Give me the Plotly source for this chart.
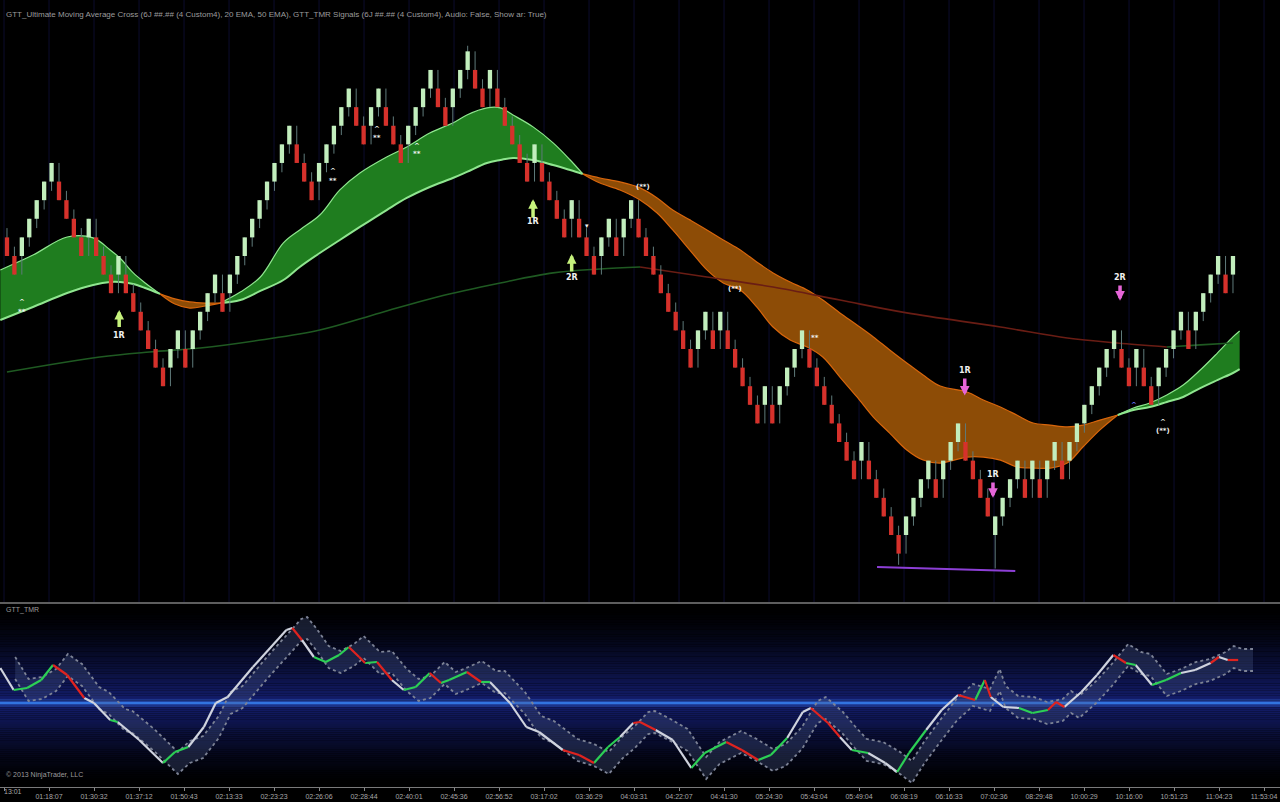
import numpy as np
import plotly.graph_objects as go

# ---------------- DATA ----------------
# Renko bricks: top of each body (in brick units) and colour (U = up / D = down)
body_top = [17, 16, 17, 18, 19, 20, 21, 20, 19, 18,
            17, 18, 17, 16, 15, 16, 15, 14, 13, 12,
            11, 10, 11, 12, 11, 12, 13, 14, 15, 14,
            15, 16, 17, 18, 19, 20, 21, 22, 23, 22,
            21, 20, 21, 22, 23, 24, 25, 24, 23, 24,
            25, 24, 23, 22, 23, 24, 25, 26, 25, 24,
            25, 26, 27, 26, 25, 26, 25, 24, 23, 22,
            21, 22, 21, 20, 19, 18, 19, 18, 17, 16,
            17, 18, 17, 18, 19, 18, 17, 16, 15, 14,
            13, 12, 11, 12, 13, 12, 13, 12, 11, 10,
            9, 8, 9, 8, 9, 10, 11, 12, 11, 10,
            9, 8, 7, 6, 5, 6, 5, 4, 3, 2,
            1, 2, 3, 4, 5, 4, 5, 6, 7, 6,
            5, 4, 3, 2, 3, 4, 5, 4, 5, 4,
            5, 6, 5, 6, 7, 8, 9, 10, 11, 12,
            11, 10, 11, 10, 9, 10, 11, 12, 13, 12,
            13, 14, 15, 16, 15, 16]
bar_dir = ("DDUUUUUDDD" "DUDDDUDDDD" "DDUUDUUUUD" "UUUUUUUUUD"
           "DDUUUUUDDU" "UDDDUUUUDD" "UUUDDUDDDD" "DUDDDDUDDD"
           "UUDUUDDDDD" "DDDUUDUDDD" "DDUDUUUUDD" "DDDDDUDDDD"
           "DUUUUDUUUD" "DDDUUUUDUD" "UUDUUUUUUU" "DDUDDUUUUD" "UUUUDU")
extra_low = {120: -0.6, 133: -0.8}
extra_high = {62: 27.3}

# Moving-average ribbon (fast / slow EMA) sampled along the bars
ma_x = [-0.9, 3.5, 8.1, 11.6, 13.9, 15.2, 17.0, 18.6, 20.6,
        22.6, 24.6, 26.7, 28.7,
        31.4, 34.1, 37.2, 39.4, 42.1, 44.8, 47.5, 51.1, 53.8, 56.9, 60.0, 61.9,
        64.6, 66.4, 68.1, 70.8, 73.5, 75.8, 77.5,
        79.8, 82.5, 85.2, 87.5, 89.6, 91.9, 94.2, 96.4, 98.7, 100.9, 103.1, 105.4,
        107.7, 109.8, 112.1, 114.4, 116.6, 118.8, 121.1, 123.3, 125.6, 129.2, 131.4,
        133.7, 135.9, 138.1, 140.4, 142.7, 144.8, 147.1, 149.5,
        151.6, 153.8, 156.1, 158.3, 160.6, 162.9, 165.0, 165.9]
ma_fast = [15.25, 16.05, 17.02, 16.97, 16.32, 15.89, 15.09, 14.55, 13.96,
           13.42, 13.20, 13.31, 13.47,
           14.06, 14.87, 16.70, 17.40, 18.20, 19.55, 20.46, 21.32, 21.86, 22.61, 23.15, 23.58,
           23.96, 23.96, 23.58, 22.94, 22.08, 21.16, 20.41,
           19.92, 19.55, 19.01, 18.31, 17.40, 16.32, 15.25, 14.55, 14.17, 13.26, 12.18, 11.48,
           11.11, 10.57, 9.49, 8.42, 7.34, 6.48, 5.57, 5.03, 4.87, 5.19, 5.19,
           5.03, 4.66, 4.60, 4.60, 4.87, 5.73, 6.65, 7.45,
           7.83, 8.10, 8.53, 9.06, 9.87, 10.78, 11.65, 11.97]
ma_slow = [12.56, 13.26, 14.01, 14.44, 14.60, 14.60, 14.49, 14.28, 13.96,
           13.69, 13.53, 13.47, 13.47,
           13.63, 14.12, 14.71, 15.41, 16.16, 16.86, 17.56, 18.47, 19.12, 19.71, 20.19, 20.52,
           21.00, 21.16, 21.27, 21.16, 20.89, 20.62, 20.41,
           20.19, 19.98, 19.66, 19.12, 18.47, 17.94, 17.40, 16.86, 16.32, 15.68, 15.09, 14.60,
           14.17, 13.63, 12.94, 12.29, 11.65, 10.95, 10.25, 9.60, 9.01, 8.69, 8.26,
           7.88, 7.45, 7.02, 6.91, 6.81, 6.91, 7.18, 7.45,
           7.72, 7.88, 8.15, 8.42, 8.90, 9.33, 9.71, 9.92]

# Long moving average
long_x = [0.0, 12.5, 19.2, 26.0, 34.1, 42.1, 50.2, 57.9, 66.4, 73.5, 79.8, 85.2,
          94.2, 103.1, 112.1, 121.1, 133.7, 142.7, 149.4, 156.1, 160.6, 165.0]
long_y = [9.76, 10.57, 10.84, 11.05, 11.48, 12.02, 12.94, 13.80, 14.55, 15.09, 15.30, 15.41,
          14.87, 14.33, 13.63, 12.94, 12.18, 11.59, 11.32, 11.11, 11.22, 11.32]

# Support line under the double bottom
support_x = [117.1, 135.7]
support_y = [-0.72, -0.94]

# Trade signals: bar, arrow tail, arrow head, label, label level, kind
sig_x = [15.1, 70.8, 76.0, 128.9, 132.7, 149.8]
sig_tail = [12.10, 17.98, 15.08, 9.50, 3.90, 14.50]
sig_head = [13.10, 19.05, 16.10, 8.50, 3.00, 13.60]
sig_label = ["1R", "1R", "2R", "1R", "1R", "2R"]
sig_label_y = [11.75, 17.83, 14.82, 9.87, 4.23, 14.87]
sig_kind = ["long", "long", "long", "short", "short", "short"]

# Small cross-over markers
mark_x = [2.0, 2.0, 43.9, 43.9, 49.8, 49.8, 55.2, 55.2, 85.6, 98.0, 108.7, 155.6, 155.6, 151.7, 78.1]
mark_y = [13.53, 12.99, 20.57, 20.03, 22.83, 22.34, 21.91, 21.48, 19.71, 14.23, 11.59, 7.08, 6.59, 7.99, 17.61]
mark_text = ["^", "**", "^", "**", "^", "**", "^", "**", "(**)", "(**)", "**", "^", "(**)", "^", "▾"]

# GTT_TMR oscillator
osc_x = [-0.9, 0.9, 2.7, 4.6, 6.2, 8.1, 10.4, 11.7, 13.9, 14.9, 17.8, 21.0, 22.6, 24.4, 26.5,
         28.1, 29.7, 33.1, 37.6, 38.4, 39.7, 41.3, 42.9, 44.7, 46.0, 47.4, 48.2, 49.8, 51.8,
         53.4, 55.0, 56.9, 58.4, 59.5, 61.9, 63.8, 65.0, 67.7, 69.9, 71.6, 74.8, 77.0, 79.0,
         80.9, 82.5, 84.3, 85.2, 87.3, 89.6, 92.1, 93.9, 96.8, 98.9, 101.1, 102.8, 105.0,
         107.1, 108.2, 110.5, 112.1, 113.7, 115.9, 118.2, 119.8, 121.4, 123.7, 125.8, 128.0,
         130.3, 131.6, 132.4, 134.1, 136.2, 138.0, 140.1, 141.2, 142.3, 144.6, 146.7, 148.9,
         150.6, 151.9, 154.1, 156.0, 158.0, 159.9, 162.0, 163.1, 164.3, 165.7]
osc_v = [0.35, 0.13, 0.15, 0.23, 0.38, 0.28, 0.05, 0.00, -0.17, -0.19, -0.37, -0.60, -0.49,
         -0.44, -0.24, 0.00, 0.06, 0.36, 0.73, 0.75, 0.63, 0.46, 0.41, 0.48, 0.56, 0.46, 0.40,
         0.41, 0.23, 0.13, 0.16, 0.30, 0.20, 0.23, 0.31, 0.21, 0.21, 0.00, -0.24, -0.29, -0.47,
         -0.52, -0.60, -0.44, -0.34, -0.20, -0.19, -0.27, -0.37, -0.65, -0.50, -0.39, -0.47,
         -0.57, -0.52, -0.35, -0.09, -0.05, -0.20, -0.34, -0.47, -0.50, -0.60, -0.69, -0.50,
         -0.27, -0.07, 0.08, 0.03, 0.23, 0.06, -0.04, -0.05, -0.10, -0.07, 0.01, -0.04, 0.11,
         0.28, 0.48, 0.40, 0.38, 0.18, 0.23, 0.30, 0.33, 0.40, 0.46, 0.43, 0.43]
osc_seg = ("WGGGRRWWGW" "WGGWWWWWWR" "WGGGRRGRWG" "GRGGRGWWWW" "RRGGWRRWWG"
           "GRRGGWWRRW" "GWWGGWWRGR" "WWGGRRWWWR" "GWGGWWRWR")

tick_labels = ["", "01:18:07", "01:30:32", "01:37:12", "01:50:43", "02:13:33", "02:23:23",
               "02:26:06", "02:28:44", "02:40:01", "02:45:36", "02:56:52", "03:17:02",
               "03:36:29", "04:03:31", "04:22:07", "04:41:30", "05:24:30", "05:43:04",
               "05:49:04", "06:08:19", "06:16:33", "07:02:36", "08:29:48", "10:00:29",
               "10:16:00", "10:51:23", "11:04:23", "11:53:04"]

# ---------------- STYLE ----------------
GREEN_FILL = "#1f7d1f"
ORANGE_FILL = "#8d4c06"
GREEN_EDGE = "#8fe68f"
ORANGE_EDGE = "#d8660c"
UP_BODY = "#c2eebd"
DN_BODY = "#d6312b"
WICK = "#5f7a7a"
FONT = "Liberation Sans"

fig = go.Figure()

# ---- ribbon, split at cross-overs ----
segs = []
start = 0
for k in range(1, len(ma_x)):
    if ma_fast[k] == ma_slow[k] or k == len(ma_x) - 1:
        segs.append((start, k))
        start = k
for s, e in segs:
    xs = ma_x[s:e + 1]
    f = ma_fast[s:e + 1]
    sl = ma_slow[s:e + 1]
    bull = sum(a - b for a, b in zip(f, sl)) > 0
    fill = GREEN_FILL if bull else ORANGE_FILL
    edge = GREEN_EDGE if bull else ORANGE_EDGE
    fig.add_trace(go.Scatter(x=xs, y=sl, mode="lines", line=dict(width=0, shape="spline"),
                             xaxis="x", yaxis="y"))
    fig.add_trace(go.Scatter(x=xs, y=f, mode="lines", line=dict(width=0, shape="spline"),
                             fill="tonexty", fillcolor=fill, xaxis="x", yaxis="y"))
    fig.add_trace(go.Scatter(x=xs, y=sl, mode="lines",
                             line=dict(width=2 if bull else 1.2, color=edge, shape="spline"),
                             xaxis="x", yaxis="y"))
    fig.add_trace(go.Scatter(x=xs, y=f, mode="lines",
                             line=dict(width=1.2, color=edge, shape="spline"),
                             xaxis="x", yaxis="y"))

# ---- long MA coloured by slope ----
k = 0
while k < len(long_x) - 1:
    rising = long_y[k + 1] >= long_y[k]
    j = k + 1
    while j < len(long_x) - 1 and (long_y[j + 1] >= long_y[j]) == rising:
        j += 1
    fig.add_trace(go.Scatter(x=long_x[k:j + 1], y=long_y[k:j + 1], mode="lines",
                             line=dict(width=1.6, color="#1f5a22" if rising else "#6a1d14",
                                       shape="spline"),
                             xaxis="x", yaxis="y"))
    k = j

# ---- renko candles ----
wx, wy, ux, uy, dx, dy = [], [], [], [], [], []
for i, top in enumerate(body_top):
    bot = top - 1
    up = bar_dir[i] == "U"
    rev = i > 0 and bar_dir[i] != bar_dir[i - 1]
    w = 1.0 if rev else 0.5
    hi = top if up else top + w
    lo = bot - w if up else bot
    hi = max(hi, extra_high.get(i, hi))
    lo = min(lo, extra_low.get(i, lo))
    wx += [i, i, None]
    wy += [lo, hi, None]
    if up:
        ux += [i, i, None]
        uy += [bot, top, None]
    else:
        dx += [i, i, None]
        dy += [bot, top, None]
fig.add_trace(go.Scatter(x=wx, y=wy, mode="lines", line=dict(width=1, color=WICK),
                         xaxis="x", yaxis="y"))
fig.add_trace(go.Scatter(x=ux, y=uy, mode="lines", line=dict(width=4.3, color=UP_BODY),
                         xaxis="x", yaxis="y"))
fig.add_trace(go.Scatter(x=dx, y=dy, mode="lines", line=dict(width=4.3, color=DN_BODY),
                         xaxis="x", yaxis="y"))

# ---- support line ----
fig.add_trace(go.Scatter(x=support_x, y=support_y, mode="lines",
                         line=dict(width=2, color="#8d3fd6"), xaxis="x", yaxis="y"))

# ---- oscillator band (lagged envelope of the line) ----
band_x = [x + 2.0 for x in osc_x]
fig.add_trace(go.Scatter(x=band_x, y=[v - 0.11 for v in osc_v], mode="lines",
                         line=dict(width=1.8, color="#7d8396", dash="dot"),
                         xaxis="x", yaxis="y2"))
fig.add_trace(go.Scatter(x=band_x, y=[v + 0.11 for v in osc_v], mode="lines",
                         line=dict(width=1.8, color="#7d8396", dash="dot"),
                         fill="tonexty", fillcolor="rgba(75,92,140,0.30)",
                         xaxis="x", yaxis="y2"))

# ---- oscillator line coloured by segment ----
seg_colors = {"W": "#cfd3de", "G": "#2ccf55", "R": "#e0231f"}
for code, col in seg_colors.items():
    xs, ys = [], []
    for k, c in enumerate(osc_seg):
        if c == code:
            xs += [osc_x[k], osc_x[k + 1], None]
            ys += [osc_v[k], osc_v[k + 1], None]
    fig.add_trace(go.Scatter(x=xs, y=ys, mode="lines", line=dict(width=2.2, color=col),
                             xaxis="x", yaxis="y2"))

# ---- annotations: signals ----
for x, t, h, lab, ly, kind in zip(sig_x, sig_tail, sig_head, sig_label, sig_label_y, sig_kind):
    col = "#c6f27c" if kind == "long" else "#e565d8"
    fig.add_annotation(x=x, y=h, ax=x, ay=t, xref="x", yref="y", axref="x", ayref="y",
                       text="", showarrow=True, arrowhead=2, arrowsize=0.55, arrowwidth=3.5,
                       arrowcolor=col)
    fig.add_annotation(x=x, y=ly, xref="x", yref="y", text="<b>" + lab + "</b>", showarrow=False,
                       font=dict(family="DejaVu Sans", size=8, color="#f0f0f0"))

for x, y, t in zip(mark_x, mark_y, mark_text):
    col = "#6a78ff" if (t == "^" and x > 150 and y > 7.5) else "#f2f2f2"
    fig.add_annotation(x=x, y=y, xref="x", yref="y", text="<b>" + t + "</b>", showarrow=False,
                       font=dict(family="DejaVu Sans", size=7, color=col))

# ---- layout geometry ----
H_PLOT = 787.0
main_dom = [(H_PLOT - 602) / H_PLOT, 1.0]
low_dom = [0.0, (H_PLOT - 605) / H_PLOT]
tickvals = [-0.4 + 6.0565 * k for k in range(len(tick_labels))]

shapes = []
# gradient background of lower pane
top_v, bot_v = 0.98, -0.84
nb = 40
for s in range(nb):
    a = top_v * s / nb
    b = top_v * (s + 1) / nb
    f = (1 - (a + b) / 2 / top_v) ** 1.5
    shapes.append(dict(type="rect", xref="paper", yref="y2", x0=0, x1=1, y0=a, y1=b,
                       fillcolor="rgb(%d,%d,%d)" % (20 * f, 30 * f, 112 * f),
                       line=dict(width=0), layer="below"))
    a2 = bot_v * s / nb
    b2 = bot_v * (s + 1) / nb
    f2 = (1 - (a2 + b2) / 2 / bot_v) ** 1.5
    shapes.append(dict(type="rect", xref="paper", yref="y2", x0=0, x1=1, y0=b2, y1=a2,
                       fillcolor="rgb(%d,%d,%d)" % (20 * f2, 30 * f2, 112 * f2),
                       line=dict(width=0), layer="below"))
# centre line
shapes.append(dict(type="line", xref="paper", yref="y2", x0=0, x1=1, y0=0, y1=0,
                   line=dict(color="rgba(60,120,235,0.25)", width=8), layer="below"))
shapes.append(dict(type="line", xref="paper", yref="y2", x0=0, x1=1, y0=0, y1=0,
                   line=dict(color="#3274e0", width=2.5), layer="below"))
# pane separator
shapes.append(dict(type="line", xref="paper", yref="paper", x0=0, x1=1,
                   y0=(H_PLOT - 603) / H_PLOT, y1=(H_PLOT - 603) / H_PLOT,
                   line=dict(color="#5e5e5e", width=2)))
# vertical grid in the price pane
for tv in tickvals:
    shapes.append(dict(type="line", xref="x", yref="paper", x0=tv, x1=tv, y0=main_dom[0], y1=1,
                       line=dict(color="#08081e", width=1.5), layer="below"))

annos_extra = [
    dict(x=0.003, y=(H_PLOT - 8) / H_PLOT, xref="paper", yref="paper", xanchor="left",
         text="GTT_Ultimate Moving Average Cross (6J ##.## (4 Custom4), 20 EMA, 50 EMA), "
              "GTT_TMR Signals (6J ##.## (4 Custom4), Audio: False, Show ar: True)",
         showarrow=False, font=dict(family=FONT, size=8, color="#9c9c9c")),
    dict(x=0.003, y=(H_PLOT - 616) / H_PLOT, xref="paper", yref="paper", xanchor="left",
         text="GTT_TMR", showarrow=False, font=dict(family=FONT, size=7, color="#9c9c9c")),
    dict(x=0.003, y=(H_PLOT - 781) / H_PLOT, xref="paper", yref="paper", xanchor="left",
         text="© 2013 NinjaTrader, LLC", showarrow=False,
         font=dict(family=FONT, size=7, color="#9c9c9c")),
    dict(x=13 / 1280, y=(H_PLOT - 797) / H_PLOT, xref="paper", yref="paper", xanchor="center",
         text="13:01", showarrow=False, font=dict(family=FONT, size=7, color="#a8a8a8")),
]
for a in annos_extra:
    fig.add_annotation(**a)

fig.update_layout(
    width=1280, height=802,
    margin=dict(l=0, r=0, t=0, b=15),
    paper_bgcolor="#000000", plot_bgcolor="#000000",
    showlegend=False, hovermode=False,
    shapes=shapes,
    xaxis=dict(range=[-0.94, 171.33], anchor="y2", showgrid=False, zeroline=False,
               tickvals=tickvals, ticktext=tick_labels, ticks="outside", ticklen=3,
               tickcolor="#8a8a8a", tickfont=dict(family=FONT, size=7, color="#a8a8a8"),
               showline=True, linecolor="#7a7a7a", linewidth=1),
    yaxis=dict(domain=main_dom, range=[-2.60, 29.76], visible=False),
    yaxis2=dict(domain=low_dom, range=[-0.84, 0.98], visible=False),
)

fig.write_html("out.html", config={"displayModeBar": False},
               post_script="document.body.style.margin='0';document.body.style.background='black';")
